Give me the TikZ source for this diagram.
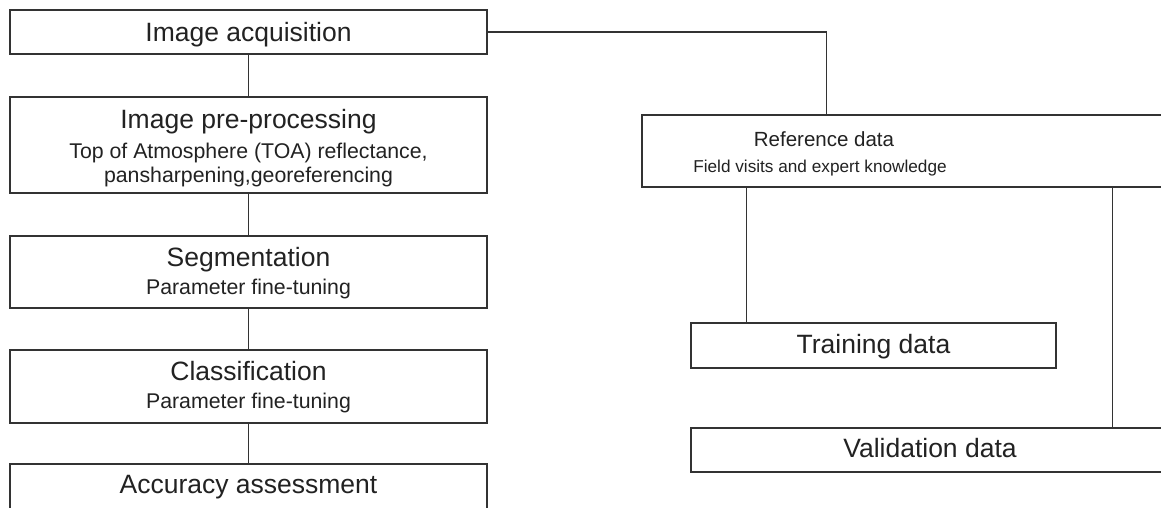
\documentclass[tikz,border=0pt]{standalone}
\usepackage{fontspec}
\setmainfont{Liberation Sans}
\usetikzlibrary{calc}
\definecolor{ink}{HTML}{222222}
\definecolor{edge}{HTML}{333333}
\tikzset{
  box/.style={draw=edge, line width=1.3pt, rectangle, inner sep=0pt, fill=white},
  conn/.style={draw=edge, line width=1.2pt},
  ttl/.style={anchor=base, inner sep=0pt, text=ink, font=\fontsize{26.5}{30}\selectfont},
  sub/.style={anchor=base, inner sep=0pt, text=ink, font=\fontsize{21.3}{24}\selectfont},
  rttl/.style={anchor=base, inner sep=0pt, text=ink, font=\fontsize{20.5}{24}\selectfont},
  rsub/.style={anchor=base, inner sep=0pt, text=ink, font=\fontsize{17.2}{20}\selectfont},
}
\begin{document}
\begin{tikzpicture}[x=1pt,y=-1pt]
\useasboundingbox (0,0) rectangle (1161,507);
\clip (0,0) rectangle (1161,507);
\fill[white] (0,0) rectangle (1161,507);
% left column boxes
\node[box, minimum width=477pt, minimum height=44pt] (IA) at (248.5,32) {};
\node[box, minimum width=477pt, minimum height=96pt] (PP) at (248.5,145) {};
\node[box, minimum width=477pt, minimum height=72pt] (SG) at (248.5,272) {};
\node[box, minimum width=477pt, minimum height=73pt] (CL) at (248.5,386.5) {};
\node[box, minimum width=477pt, minimum height=88pt] (AC) at (248.5,508) {};
% right column boxes
\node[box, minimum width=538pt, minimum height=72pt] (RF) at (911,151) {};
\node[box, minimum width=365pt, minimum height=45pt] (TR) at (873.5,345.5) {};
\node[box, minimum width=478pt, minimum height=44pt] (VA) at (930,450) {};
% texts
\node[ttl] (tIA) at (248.5,41) {Image acquisition};
\node[ttl] (tPP) at (248.5,128) {Image pre-processing};
\node[sub] (sPP1) at (248.5,158) {Top of Atmosphere (TOA) reflectance,};
\node[sub] (sPP2) at (248.5,182) {pansharpening,georeferencing};
\node[ttl] (tSG) at (248.5,266) {Segmentation};
\node[sub] (sSG) at (248.5,294) {Parameter fine-tuning};
\node[ttl] (tCL) at (248.5,380) {Classification};
\node[sub] (sCL) at (248.5,408) {Parameter fine-tuning};
\node[ttl] (tAC) at (248.5,493) {Accuracy assessment};
\node[rttl] (tRF) at (824,146) {Reference data};
\node[rsub] (sRF) at (820,172) {Field visits and expert knowledge};
\node[ttl] (tTR) at (873.5,353) {Training data};
\node[ttl] (tVA) at (930,457) {Validation data};
% connectors
\draw[conn] (IA.south) -- (PP.north);
\draw[conn] (PP.south) -- (SG.north);
\draw[conn] (SG.south) -- (CL.north);
\draw[conn] (CL.south) -- (AC.north);
\draw[conn] (IA.east) -| ([xshift=185pt]RF.north west);
\draw[conn] ([xshift=105pt]RF.south west) -- ([xshift=56pt]TR.north west);
\draw[conn] ([xshift=471pt]RF.south west) -- ([xshift=422pt]VA.north west);
\end{tikzpicture}
\end{document}
